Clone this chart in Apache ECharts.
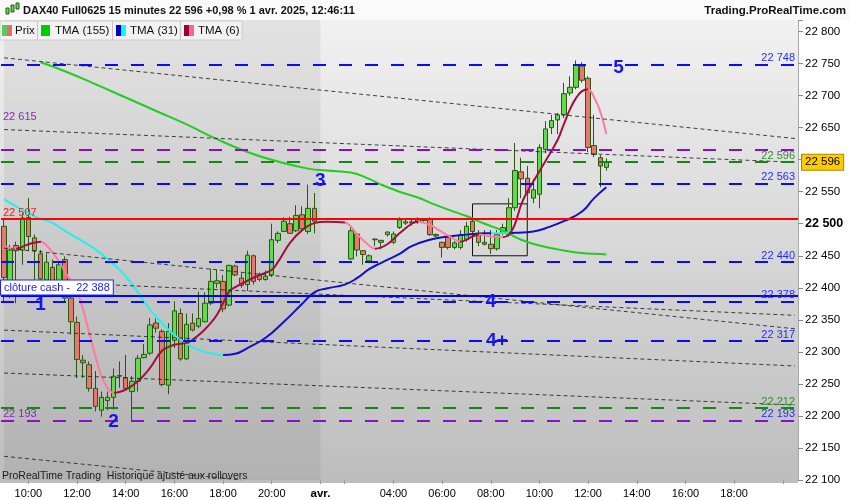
<!DOCTYPE html>
<html lang="fr">
<head>
<meta charset="UTF-8">
<title>DAX40 Full0625 15 minutes</title>
<script src="https://cdn.jsdelivr.net/npm/echarts@6.0.0/dist/echarts.min.js"></script>
<style>
  html, body { margin: 0; padding: 0; background: #fff; }
  #chart { width: 850px; height: 500px; }
</style>
</head>
<body>
<div id="chart"></div>
<script>
// créneaux de 15 minutes : 31/03 09:00-21:45, 01/04 01:00-20:30
var categories = [];
[['31', 9 * 60, 52], ['01', 60, 79]].forEach(function (d) {
  for (var k = 0; k < d[2]; k++) {
    var m = d[1] + k * 15, hh = Math.floor(m / 60), mm = m % 60;
    categories.push(d[0] + ' ' + (hh < 10 ? '0' : '') + hh + ':' + (mm < 10 ? '0' : '') + mm);
  }
});

// libellés de l'axe des temps
var timeLabels = ['31 10:00', '31 12:00', '31 14:00', '31 16:00', '31 18:00', '31 20:00',
  '01 01:00', '01 04:00', '01 06:00', '01 08:00', '01 10:00', '01 12:00', '01 14:00', '01 16:00', '01 18:00'];
var tickOnly = ['01 02:00', '01 20:00'];
var dayLabel = '01 01:00';

// bougies [ouverture, clôture, plus bas, plus haut]
var day1First = '31 09:00';
var day1Candles = [
  [22496, 22416, 22376, 22509], [22411, 22459, 22384, 22467], [22466, 22458, 22376, 22472], [22459, 22509, 22436, 22517],
  [22510, 22480, 22457, 22540], [22478, 22458, 22412, 22483], [22453, 22414, 22410, 22459], [22412, 22440, 22405, 22454],
  [22432, 22410, 22405, 22444], [22406, 22436, 22394, 22441], [22444, 22384, 22379, 22449], [22384, 22347, 22327, 22389],
  [22346, 22288, 22259, 22355], [22287, 22283, 22259, 22295], [22280, 22243, 22238, 22285], [22243, 22215, 22207, 22270],
  [22209, 22229, 22199, 22238], [22224, 22229, 22209, 22238], [22229, 22262, 22210, 22274], [22263, 22262, 22244, 22285],
  [22260, 22243, 22240, 22295], [22238, 22254, 22193, 22262], [22254, 22290, 22238, 22295], [22291, 22296, 22290, 22312],
  [22298, 22342, 22295, 22353], [22345, 22337, 22330, 22352], [22332, 22249, 22246, 22335], [22248, 22332, 22234, 22345],
  [22318, 22364, 22306, 22379], [22360, 22289, 22286, 22368], [22289, 22343, 22287, 22360], [22345, 22334, 22332, 22360],
  [22340, 22352, 22337, 22394], [22347, 22376, 22346, 22393], [22376, 22410, 22373, 22430], [22407, 22411, 22400, 22428],
  [22410, 22367, 22362, 22420], [22373, 22435, 22371, 22436], [22434, 22420, 22418, 22436], [22415, 22404, 22400, 22423],
  [22405, 22451, 22395, 22458], [22450, 22410, 22405, 22452], [22420, 22413, 22410, 22424], [22413, 22418, 22411, 22427],
  [22420, 22475, 22417, 22500], [22474, 22485, 22470, 22488], [22488, 22504, 22487, 22510], [22500, 22485, 22484, 22511],
  [22489, 22513, 22487, 22529], [22514, 22492, 22489, 22527], [22488, 22524, 22484, 22561], [22524, 22504, 22485, 22548]
];
var day2First = '01 02:15';
var day2Candles = [
  [22445, 22489, 22444, 22496], [22484, 22459, 22449, 22486], [22458, 22452, 22436, 22459], [22442, 22450, 22441, 22452],
  [22476, 22475, 22465, 22477], [22474, 22471, 22460, 22475], [22483, 22487, 22480, 22488], [22471, 22484, 22468, 22488],
  [22494, 22506, 22492, 22510], [22501, 22503, 22498, 22507], [22503, 22501, 22497, 22507], [22508, 22504, 22500, 22510],
  [22505, 22506, 22503, 22508], [22508, 22483, 22481, 22510], [22483, 22481, 22479, 22485], [22471, 22463, 22447, 22472],
  [22479, 22463, 22460, 22480], [22463, 22470, 22460, 22473], [22463, 22482, 22460, 22490], [22475, 22496, 22472, 22503],
  [22504, 22488, 22485, 22507], [22484, 22471, 22465, 22490], [22471, 22468, 22466, 22490], [22468, 22461, 22453, 22490],
  [22461, 22483, 22458, 22490], [22485, 22494, 22482, 22500], [22483, 22525, 22480, 22540], [22525, 22583, 22520, 22626],
  [22581, 22570, 22540, 22603], [22571, 22548, 22525, 22590], [22540, 22553, 22532, 22570], [22546, 22619, 22524, 22624],
  [22616, 22648, 22610, 22660], [22650, 22661, 22640, 22670], [22662, 22670, 22640, 22673], [22670, 22703, 22665, 22720],
  [22704, 22713, 22700, 22730], [22713, 22748, 22710, 22755], [22746, 22724, 22720, 22752], [22727, 22619, 22612, 22730],
  [22622, 22608, 22604, 22670], [22603, 22590, 22557, 22607], [22588, 22596, 22583, 22602]
];

// moyennes triangulaires [créneau, valeur]
var tma155 = [[6, 22752], [10, 22738], [15, 22718], [20, 22697], [25, 22676], [30, 22655], [35, 22632], [40, 22612],
  [45, 22597], [50, 22586], [53, 22583], [57, 22580], [60, 22570], [62, 22561], [65, 22550], [68, 22541], [70, 22533],
  [73, 22522], [76, 22512], [79, 22500], [82, 22489], [85, 22475], [88, 22466], [91, 22460], [94, 22455], [97, 22453], [99, 22452]];
var tma31 = [[0, 22538], [5, 22512], [8, 22501], [10, 22489], [13, 22472], [16, 22453], [19, 22428], [21, 22406], [24, 22366],
  [27, 22335], [29, 22319], [32, 22303], [35, 22296], [36, 22295], [38, 22297], [40, 22306], [43, 22322], [46, 22347],
  [49, 22375], [51, 22393], [53, 22399], [56, 22405], [58, 22415], [60, 22429], [62, 22439], [65, 22453], [67, 22465],
  [70, 22475], [73, 22480], [76, 22483], [79, 22485], [82, 22485], [84, 22486], [87, 22488], [89, 22493], [92, 22504],
  [95, 22519], [97, 22540], [99, 22557]];
var tma6 = [[0, 22465], [2, 22461], [4, 22468], [6, 22472], [7, 22466], [9, 22442], [10, 22425], [12, 22394], [13, 22366],
  [14, 22330], [15, 22294], [16, 22262], [17, 22244], [18, 22236], [20, 22241], [22, 22254], [24, 22275], [26, 22302],
  [28, 22311], [30, 22314], [31, 22319], [33, 22335], [35, 22358], [37, 22394], [38, 22401], [40, 22411], [42, 22420],
  [44, 22428], [45, 22440], [47, 22470], [49, 22490], [51, 22501], [53, 22503], [56, 22502], [58, 22484], [60, 22466],
  [61, 22461], [63, 22468], [65, 22485], [67, 22500], [68, 22503], [70, 22498], [72, 22487], [74, 22476], [75, 22472],
  [77, 22480], [78, 22483], [80, 22480], [82, 22479], [83, 22483], [84, 22500], [85, 22530], [86, 22550], [87, 22566],
  [89, 22598], [91, 22631], [92, 22655], [93, 22678], [94, 22696], [95, 22707], [96, 22710], [97, 22697], [98, 22675], [99, 22640]];
// créneaux où la pente change de signe
var tma31Turns = [36, 80, 83];
var tma6Turns = [2, 6, 18, 56, 61, 68, 75, 78, 82, 96];

// niveaux horizontaux
var blueDashLevels = [22748, 22563, 22440, 22378, 22317, 22193];
var greenDashLevels = [22596, 22212];
var purpleDashLevels = [22615, 22193];
var resistanceLevel = 22507;
var cashClose = 22388;
var lastPrice = 22596;

// lignes de tendance [créneau, valeur, créneau, valeur]
var trendLines = [[0, 22759, 130, 22633], [0, 22647, 130, 22596], [0, 22462, 130, 22336], [0, 22412, 130, 22357],
  [0, 22334, 130, 22278], [0, 22267, 130, 22217], [0, 22137, 39, 22100]];
// rectangle [créneau, haut, créneau, bas]
var boxZone = [77, 22531, 86, 22450];
// vagues [texte, créneau, valeur]
var waveLabels = [['1', 6, 22373], ['2', 18, 22191], ['3', 52, 22567], ['4', 80, 22378], ['4+', 81, 22317], ['5', 101, 22744]];

var FONT = '"Liberation Sans", Arial, sans-serif';
var BLUE = '#1414f0', GREEN = '#128a12', PURPLE = '#8a10c8';

function fmt(v) {
  var s = String(Math.round(v));
  return s.slice(0, s.length - 3) + ' ' + s.slice(-3);
}

var candleData = categories.map(function () { return ['-', '-', '-', '-']; });
var s1 = categories.indexOf(day1First), s2 = categories.indexOf(day2First);
day1Candles.forEach(function (c, k) { candleData[s1 + k] = c; });
day2Candles.forEach(function (c, k) { candleData[s2 + k] = c; });

function turnPieces(turns, colors) {
  var pieces = [], prev = null;
  turns.concat([null]).forEach(function (t, k) {
    var p = { color: colors[k % 2] };
    if (prev !== null) p.gte = prev;
    if (t !== null) p.lt = t;
    pieces.push(p);
    prev = t;
  });
  return pieces;
}

var lineItems = [];
trendLines.forEach(function (t) {
  lineItems.push([{ coord: [t[0], t[1]], lineStyle: { color: '#222', type: [4, 3], width: 1, opacity: 0.85 }, label: { show: false } },
    { coord: [t[2], t[3]] }]);
});
blueDashLevels.forEach(function (v) {
  lineItems.push({ yAxis: v, lineStyle: { color: '#0a0aff', type: [13, 13], width: 2 },
    label: { show: true, position: 'insideEndTop', formatter: fmt(v), color: '#2a2aff', distance: [3, 1] } });
});
greenDashLevels.forEach(function (v) {
  lineItems.push({ yAxis: v, lineStyle: { color: GREEN, type: [13, 13], width: 2 },
    label: { show: true, position: 'insideEndTop', formatter: fmt(v), color: '#2a902a', distance: [3, 1] } });
});
purpleDashLevels.forEach(function (v, k) {
  lineItems.push({ yAxis: v, lineStyle: { color: PURPLE, type: [13, 13], width: 2 },
    label: { show: true, position: 'insideStartTop', formatter: fmt(v), color: '#8a2ab8', distance: k === 0 ? [2, 28] : [2, 1] } });
});
lineItems.push({ yAxis: resistanceLevel, lineStyle: { color: '#ff0000', type: 'solid', width: 2 },
  label: { show: true, position: 'insideStartTop', formatter: fmt(resistanceLevel), color: '#ff1a1a', distance: [2, 1] } });
lineItems.push({ yAxis: cashClose, lineStyle: { color: '#0000ff', type: 'solid', width: 2 },
  label: { show: true, position: 'insideStartTop', formatter: 'clôture cash -  ' + fmt(cashClose), color: '#1a1aff',
    backgroundColor: '#ffffff', borderColor: '#2020ff', borderWidth: 1, padding: [2, 3, 1, 3], distance: [0, 1] } });
lineItems.push({ yAxis: lastPrice, lineStyle: { color: 'rgba(0,0,0,0)', width: 1 },
  label: { show: true, position: 'end', formatter: fmt(lastPrice), color: '#000', backgroundColor: '#ffcc00',
    borderColor: '#a88800', borderWidth: 1, padding: [2, 3, 1, 3], distance: 4, fontSize: 11.5 } });

var option = {
  animation: false,
  textStyle: { fontFamily: FONT },
  grid: { left: 1, top: 20, width: 797, height: 460, containLabel: false, outerBoundsMode: 'none' },
  xAxis: {
    type: 'category', data: categories, boundaryGap: true,
    axisLine: { show: false },
    axisTick: { show: true, alignWithLabel: true, length: 4, lineStyle: { color: '#9a9a9a' },
      interval: function (i, v) { return timeLabels.indexOf(v) >= 0 || tickOnly.indexOf(v) >= 0; } },
    axisLabel: {
      color: '#000', fontSize: 11, margin: 8, fontFamily: FONT,
      interval: function (i, v) { return timeLabels.indexOf(v) >= 0; },
      formatter: function (v) { return v === dayLabel ? '{b|avr.}' : v.slice(3); },
      rich: { b: { fontWeight: 'bold', fontSize: 11.5, color: '#000' } }
    },
    splitLine: { show: false }
  },
  yAxis: {
    type: 'value', position: 'right', min: 22100, max: 22818, interval: 50,
    axisLine: { show: true, lineStyle: { color: '#a8a8a8' } },
    axisTick: { show: true, length: 5, lineStyle: { color: '#8a8a8a' } },
    splitLine: { show: false },
    axisLabel: {
      color: '#000', fontSize: 11.5, margin: 7, fontFamily: FONT,
      formatter: function (v) {
        if (v % 50 !== 0) return '';
        return v === 22500 ? '{b|' + fmt(v) + '}' : fmt(v);
      },
      rich: { b: { fontWeight: 'bold', fontSize: 12.5, color: '#000' } }
    }
  },
  visualMap: [
    { type: 'piecewise', show: false, seriesIndex: 2, dimension: 0, pieces: turnPieces(tma31Turns, ['#22f0f0', '#1010c8']) },
    { type: 'piecewise', show: false, seriesIndex: 3, dimension: 0, pieces: turnPieces(tma6Turns, ['#ff7a9c', '#a0103c']) }
  ],
  series: [
    {
      name: 'Prix', type: 'candlestick', data: candleData, barWidth: 5, z: 2,
      itemStyle: { color: '#62d94e', color0: '#e8786c', borderColor: '#2b5614', borderColor0: '#2b5614', borderWidth: 1 },
      markArea: { silent: true, data: [[{ xAxis: categories[0], itemStyle: { color: 'rgba(0,0,0,0.06)' } }, { xAxis: dayLabel }]] }
    },
    { name: 'TMA (155)', type: 'line', data: tma155, showSymbol: false, smooth: 0.5, z: 3,
      lineStyle: { color: '#22cc22', width: 2 } },
    { name: 'TMA (31)', type: 'line', data: tma31, showSymbol: false, smooth: 0.5, z: 3,
      lineStyle: { width: 2 } },
    { name: 'TMA (6)', type: 'line', data: tma6, showSymbol: false, smooth: 0.4, z: 3,
      lineStyle: { width: 2 } },
    {
      name: 'niveaux', type: 'line', data: [], z: 4, clip: false,
      markLine: { silent: true, symbol: ['none', 'none'], label: { fontSize: 11, fontFamily: FONT }, data: lineItems },
      markArea: { silent: true, data: [[{ coord: [boxZone[0], boxZone[1]], itemStyle: { color: 'rgba(0,0,0,0)', borderColor: '#111', borderWidth: 1 } },
        { coord: [boxZone[2], boxZone[3]] }]] },
      markPoint: {
        silent: true,
        data: waveLabels.map(function (w) {
          return { coord: [w[1], w[2]], symbol: 'circle', symbolSize: 1, itemStyle: { color: 'rgba(0,0,0,0)' },
            label: { show: true, position: 'inside', formatter: w[0], color: BLUE, fontSize: 19, fontWeight: 'bold', fontFamily: FONT } };
        })
      }
    }
  ],
  graphic: [
    { type: 'rect', z: -10, silent: true, shape: { x: 0, y: 20, width: 798, height: 463 },
      style: { fill: { type: 'linear', x: 0, y: 0, x2: 0, y2: 1, colorStops: [{ offset: 0, color: '#f1f1f1' }, { offset: 1, color: '#bdbdbd' }] } } },
    { type: 'rect', z: 100, shape: { x: 0, y: 0, width: 850, height: 20 }, style: { fill: '#fafafa' } },
    { type: 'rect', z: 101, shape: { x: 6, y: 8, width: 3, height: 6 }, style: { fill: '#5fd64c', stroke: '#2b5614', lineWidth: 1 } },
    { type: 'rect', z: 101, shape: { x: 11, y: 5, width: 3, height: 7 }, style: { fill: '#5fd64c', stroke: '#2b5614', lineWidth: 1 } },
    { type: 'rect', z: 101, shape: { x: 16, y: 3, width: 3, height: 6 }, style: { fill: '#5fd64c', stroke: '#2b5614', lineWidth: 1 } },
    { type: 'text', z: 101, style: { x: 23, y: 11, text: 'DAX40 Full0625 15 minutes 22 596 +0,98 % 1 avr. 2025, 12:46:11',
      font: 'bold 11px ' + FONT, fill: '#111', verticalAlign: 'middle' } },
    { type: 'text', z: 101, style: { x: 846, y: 11, text: 'Trading.ProRealTime.com', font: 'bold 11.5px ' + FONT, fill: '#111',
      align: 'right', verticalAlign: 'middle' } },
    { type: 'rect', z: 100, shape: { x: 0, y: 21, width: 242, height: 19 }, style: { fill: '#f2f2f2', stroke: '#cdcdcd', lineWidth: 1 } },
    { type: 'line', z: 101, shape: { x1: 37.5, y1: 21, x2: 37.5, y2: 40 }, style: { stroke: '#c4c4c4' } },
    { type: 'line', z: 101, shape: { x1: 112.5, y1: 21, x2: 112.5, y2: 40 }, style: { stroke: '#c4c4c4' } },
    { type: 'line', z: 101, shape: { x1: 180.5, y1: 21, x2: 180.5, y2: 40 }, style: { stroke: '#c4c4c4' } },
    { type: 'rect', z: 101, shape: { x: 2, y: 25, width: 5, height: 11 }, style: { fill: '#55cc55' } },
    { type: 'rect', z: 101, shape: { x: 7, y: 25, width: 5, height: 11 }, style: { fill: '#e86a6a' } },
    { type: 'rect', z: 101, shape: { x: 41, y: 25, width: 9, height: 11 }, style: { fill: '#00cc00' } },
    { type: 'rect', z: 101, shape: { x: 116, y: 25, width: 5, height: 11 }, style: { fill: '#0000cc' } },
    { type: 'rect', z: 101, shape: { x: 121, y: 25, width: 5, height: 11 }, style: { fill: '#00ffff' } },
    { type: 'rect', z: 101, shape: { x: 184, y: 25, width: 5, height: 11 }, style: { fill: '#99003a' } },
    { type: 'rect', z: 101, shape: { x: 189, y: 25, width: 5, height: 11 }, style: { fill: '#ff6688' } },
    { type: 'text', z: 101, style: { x: 15, y: 31, text: 'Prix', font: '11.5px ' + FONT, fill: '#111', verticalAlign: 'middle' } },
    { type: 'text', z: 101, style: { x: 55, y: 31, text: 'TMA (155)', font: '11.5px ' + FONT, fill: '#111', verticalAlign: 'middle' } },
    { type: 'text', z: 101, style: { x: 130, y: 31, text: 'TMA (31)', font: '11.5px ' + FONT, fill: '#111', verticalAlign: 'middle' } },
    { type: 'text', z: 101, style: { x: 198, y: 31, text: 'TMA (6)', font: '11.5px ' + FONT, fill: '#111', verticalAlign: 'middle' } },
    { type: 'text', z: 101, style: { x: 2, y: 476, text: 'ProRealTime Trading  Historique ajusté aux rollovers',
      font: '10.5px ' + FONT, fill: '#1a1a1a', verticalAlign: 'middle' } }
  ]
};

var chart = echarts.init(document.getElementById('chart'));
chart.setOption(option);
</script>
</body>
</html>
